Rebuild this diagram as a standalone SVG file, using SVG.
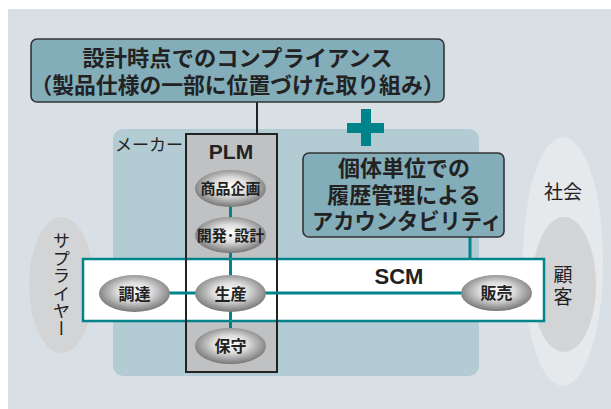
<svg xmlns="http://www.w3.org/2000/svg" width="611" height="409" viewBox="0 0 611 409">
<defs>
<radialGradient id="eg" cx="50%" cy="45%" r="55%">
<stop offset="0" stop-color="#ffffff"/>
<stop offset="0.45" stop-color="#dcdcdc"/>
<stop offset="1" stop-color="#767676"/>
</radialGradient>
<style>
.jp{font-family:"Noto Sans CJK JP","Noto Sans",sans-serif;fill:#222}
.b{font-weight:bold}
.lat{font-family:"Liberation Sans",Arial,sans-serif;font-weight:bold;fill:#222}
.mid{text-anchor:middle}
.box{fill:#82adb9;stroke:#333;stroke-width:1.6}
.ell{fill:url(#eg)}
.teal{stroke:#00848c;stroke-width:3;fill:none}
.vert{writing-mode:vertical-rl;text-anchor:middle}
</style>
</defs>
<rect x="8" y="9" width="603" height="400" fill="#d8e0e5"/>
<g id="society">
<ellipse cx="563" cy="261.5" rx="40" ry="124.5" fill="#e6e9eb"/>
<text class="jp mid" x="563" y="199" font-size="19">社会</text>
</g>
<g id="customer">
<ellipse cx="564" cy="284.5" rx="32" ry="67.5" fill="#d3d4d6"/>
<text class="jp vert" x="563" y="287.5" font-size="19" letter-spacing="3">顧客</text>
</g>
<g id="supplier">
<ellipse cx="61.5" cy="285" rx="32.5" ry="68" fill="#d3d4d6"/>
<text class="jp vert" x="61.5" y="284.5" font-size="17.5">サプライヤー</text>
</g>
<g id="maker">
<rect x="113" y="129" width="366" height="247" rx="10" fill="#b3cbd3"/>
<text class="jp" x="115" y="150.5" font-size="17">メーカー</text>
</g>
<g id="connectors">
<line x1="257" y1="102" x2="257" y2="134" stroke="#222" stroke-width="2"/>
</g>
<g id="compliance">
<rect class="box" x="31" y="39" width="413" height="63" rx="6"/>
<text class="jp b mid" font-size="22"><tspan x="237.5" y="66.4" textLength="310" lengthAdjust="spacingAndGlyphs">設計時点でのコンプライアンス</tspan><tspan x="237.5" y="93.4" textLength="414" lengthAdjust="spacingAndGlyphs">（製品仕様の一部に位置づけた取り組み）</tspan></text>
</g>
<g id="plus" fill="#00848c">
<rect x="347" y="123" width="37" height="10"/>
<rect x="361" y="109" width="10" height="37"/>
</g>
<g id="plm">
<rect x="186" y="134" width="91" height="238" fill="#c0c1c3"/>
<text class="lat mid" x="231" y="159" font-size="21">PLM</text>
</g>
<g id="scm">
<rect x="83" y="259" width="461" height="62" fill="#ffffff" stroke="#00848c" stroke-width="2.5"/>
<text class="lat mid" x="399" y="284" font-size="22">SCM</text>
</g>
<rect x="186" y="134" width="91" height="238" fill="none" stroke="#222" stroke-width="2"/>
<g id="links">
<line class="teal" x1="230.5" y1="205" x2="230.5" y2="330"/>
<line class="teal" x1="168" y1="293" x2="463" y2="293"/>
<line class="teal" x1="470" y1="237" x2="470" y2="259"/>
</g>
<g id="planning">
<ellipse class="ell" cx="230.5" cy="188.5" rx="35.5" ry="18.5"/>
<text class="jp b mid" x="230.5" y="194" font-size="15">商品企画</text>
</g>
<g id="design">
<ellipse class="ell" cx="230.5" cy="235" rx="35.5" ry="18"/>
<text class="jp b mid" x="230.5" y="240.5" font-size="15">開発･設計</text>
</g>
<g id="procurement">
<ellipse class="ell" cx="134.5" cy="293.5" rx="35.5" ry="18.5"/>
<text class="jp b mid" x="134.5" y="299.5" font-size="16">調達</text>
</g>
<g id="production">
<ellipse class="ell" cx="230.5" cy="293.5" rx="35.5" ry="18.5"/>
<text class="jp b mid" x="230.5" y="299.5" font-size="16">生産</text>
</g>
<g id="maintenance">
<ellipse class="ell" cx="230.5" cy="346" rx="35.5" ry="18"/>
<text class="jp b mid" x="230.5" y="352" font-size="16">保守</text>
</g>
<g id="sales">
<ellipse class="ell" cx="496.5" cy="293" rx="35.5" ry="18"/>
<text class="jp b mid" x="496.5" y="299" font-size="16">販売</text>
</g>
<g id="accountability">
<rect class="box" x="303" y="153" width="201" height="84" rx="6"/>
<text class="jp b mid" font-size="22"><tspan x="404" y="176.4">個体単位での</tspan><tspan x="404" y="203.4">履歴管理による</tspan><tspan x="407" y="229.4" textLength="190" lengthAdjust="spacingAndGlyphs">アカウンタビリティ</tspan></text>
</g>
</svg>
